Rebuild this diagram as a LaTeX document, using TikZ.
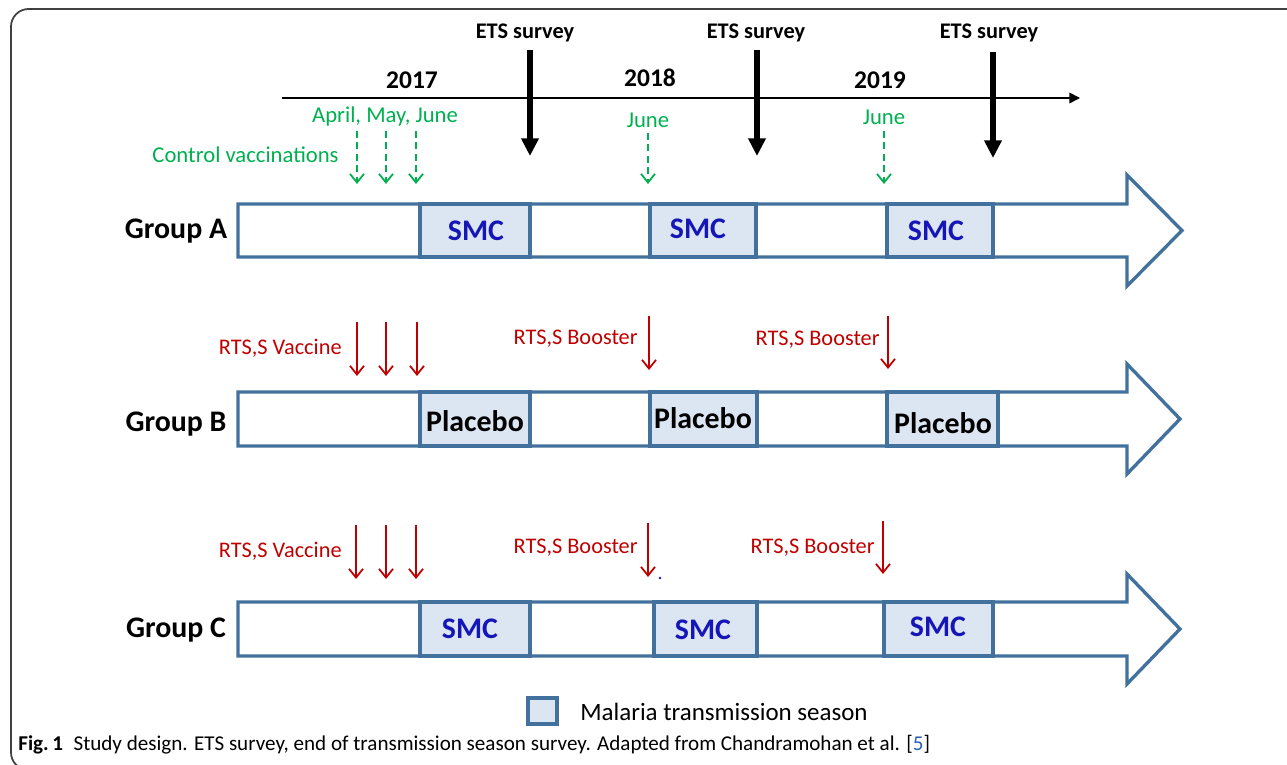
\documentclass[tikz,border=0pt]{standalone}
\usepackage{fontspec}
\setmainfont{Carlito}
\usetikzlibrary{arrows.meta}

\definecolor{barblue}{HTML}{41719C}
\definecolor{seasonfill}{HTML}{DCE6F2}
\definecolor{smcblue}{HTML}{1616B8}
\definecolor{ctrlgreen}{HTML}{00B050}
\definecolor{rtsred}{HTML}{C00000}
\definecolor{citeblue}{HTML}{2A5DB0}

\tikzset{
  grouplabel/.style={font=\fontsize{17}{20}\selectfont\bfseries},
  smclabel/.style={font=\fontsize{17}{20}\selectfont\bfseries, text=smcblue},
  placebolabel/.style={font=\fontsize{17}{20}\selectfont\bfseries},
  yearlabel/.style={font=\fontsize{14.5}{17}\selectfont\bfseries},
  etslabel/.style={font=\fontsize{12.7}{15}\selectfont\bfseries},
  ctrllabel/.style={font=\fontsize{12.9}{15}\selectfont, text=ctrlgreen},
  rtslabel/.style={font=\fontsize{12.7}{15}\selectfont, text=rtsred, anchor=east, inner sep=0pt},
  seasonbox/.style={draw=barblue, fill=seasonfill, line width=1.9pt},
  barshape/.style={draw=barblue, fill=white, line width=1.9pt, line join=miter},
  etsarrow/.style={line width=3pt, -{Triangle[length=10pt,width=9.5pt]}},
  ctrlarrow/.style={ctrlgreen, line width=1pt, dash pattern=on 4pt off 2.5pt, -{Straight Barb[length=5pt,width=8pt]}},
  rtsarrow/.style={rtsred, line width=1pt, -{Straight Barb[length=5pt,width=8pt]}}
}

\begin{document}
\begin{tikzpicture}[x=0.2mm, y=-0.2mm]
  \useasboundingbox (0,0) rectangle (1287,765);

  % Khung ngoai
  \draw[black!75, line width=1pt, rounded corners=10] (1300,9) -- (11,9) -- (11,770) -- (40,770);

  % Truc thoi gian
  \draw[line width=0.9pt, -{Triangle[length=6pt,width=6pt]}] (282,98) -- (1080,98);
  \node[yearlabel] (y2017) at (412,80) {2017};
  \node[yearlabel] (y2018) at (650,78) {2018};
  \node[yearlabel] (y2019) at (880,80) {2019};

  % Cac dot khao sat ETS
  \node[etslabel] (ets1) at (525,33) {ETS survey};
  \node[etslabel] (ets2) at (756,33) {ETS survey};
  \node[etslabel] (ets3) at (989,33) {ETS survey};
  \draw[etsarrow] (530,50) -- (530,156);
  \draw[etsarrow] (757,50) -- (757,156);
  \draw[etsarrow] (993,52) -- (993,158);

  % Tiem chung doi chung
  \node[ctrllabel] (ctrlmonths) at (385,116) {April, May, June};
  \node[ctrllabel, anchor=east, inner sep=0pt] (ctrlvacc) at (339,155) {Control vaccinations};
  \node[ctrllabel] (ctrljune1) at (648,120) {June};
  \node[ctrllabel] (ctrljune2) at (884,117) {June};
  \draw[ctrlarrow] (357,131) -- (357,184);
  \draw[ctrlarrow] (386,131) -- (386,184);
  \draw[ctrlarrow] (416,131) -- (416,184);
  \draw[ctrlarrow] (648,133) -- (648,184);
  \draw[ctrlarrow] (884,131) -- (884,184);

  % Nhom A
  \node[grouplabel] (groupA) at (176,231) {Group A};
  \draw[barshape] (238,204) -- (1127,204) -- (1127,175) -- (1182,230.5) -- (1127,286) -- (1127,257) -- (238,257) -- cycle;
  \draw[seasonbox] (420,204) rectangle (530,257);
  \draw[seasonbox] (650,204) rectangle (756,257);
  \draw[seasonbox] (887,204) rectangle (993,257);
  \node[smclabel] (smcA1) at (476,231) {SMC};
  \node[smclabel] (smcA2) at (698,229) {SMC};
  \node[smclabel] (smcA3) at (936,231) {SMC};

  % Nhom B
  \node[rtslabel] (vaccB) at (342,348) {RTS,S Vaccine};
  \node[rtslabel] (boostB1) at (638,339) {RTS,S Booster};
  \node[rtslabel] (boostB2) at (880,340) {RTS,S Booster};
  \draw[rtsarrow] (357,322) -- (357,376);
  \draw[rtsarrow] (386,322) -- (386,376);
  \draw[rtsarrow] (417,322) -- (417,376);
  \draw[rtsarrow] (649,316) -- (649,370);
  \draw[rtsarrow] (888,316) -- (888,369);
  \node[grouplabel] (groupB) at (176,424) {Group B};
  \draw[barshape] (238,392) -- (1127,392) -- (1127,364) -- (1180,419) -- (1127,474) -- (1127,446) -- (238,446) -- cycle;
  \draw[seasonbox] (420,392) rectangle (530,446);
  \draw[seasonbox] (650,392) rectangle (757,446);
  \draw[seasonbox] (887,392) rectangle (998,446);
  \node[placebolabel] (plcB1) at (475,421) {Placebo};
  \node[placebolabel] (plcB2) at (703,418) {Placebo};
  \node[placebolabel] (plcB3) at (943,423) {Placebo};

  % Nhom C
  \node[rtslabel] (vaccC) at (342,551) {RTS,S Vaccine};
  \node[rtslabel] (boostC1) at (638,548) {RTS,S Booster};
  \node[rtslabel] (boostC2) at (875,548) {RTS,S Booster};
  \draw[rtsarrow] (356,525) -- (356,579);
  \draw[rtsarrow] (386,525) -- (386,579);
  \draw[rtsarrow] (416,525) -- (416,579);
  \draw[rtsarrow] (648,523) -- (648,577);
  \draw[rtsarrow] (883,521) -- (883,574);
  \fill[smcblue] (660,578) circle (1.3);
  \node[grouplabel] (groupC) at (176,630) {Group C};
  \draw[barshape] (238,602) -- (1127,602) -- (1127,574) -- (1180,629) -- (1127,684) -- (1127,656) -- (238,656) -- cycle;
  \draw[seasonbox] (420,602) rectangle (530,656);
  \draw[seasonbox] (654,602) rectangle (757,656);
  \draw[seasonbox] (884,602) rectangle (993,656);
  \node[smclabel] (smcC1) at (470,629) {SMC};
  \node[smclabel] (smcC2) at (703,630) {SMC};
  \node[smclabel] (smcC3) at (938,627) {SMC};

  % Chu giai
  \draw[seasonbox, line width=2.4pt] (528,698) rectangle (557,724);
  \node[anchor=west, inner sep=0pt, font=\fontsize{14.2}{17}\selectfont] (legend) at (580,712) {Malaria transmission season};

  % Chu thich hinh
  \node[anchor=west, inner sep=0pt, font=\fontsize{12}{14}\selectfont] (caption) at (18,745)
    {\textbf{Fig.\,1}\enspace Study design. ETS survey, end of transmission season survey. Adapted from Chandramohan et al. [\textcolor{citeblue}{5}]};
\end{tikzpicture}
\end{document}
